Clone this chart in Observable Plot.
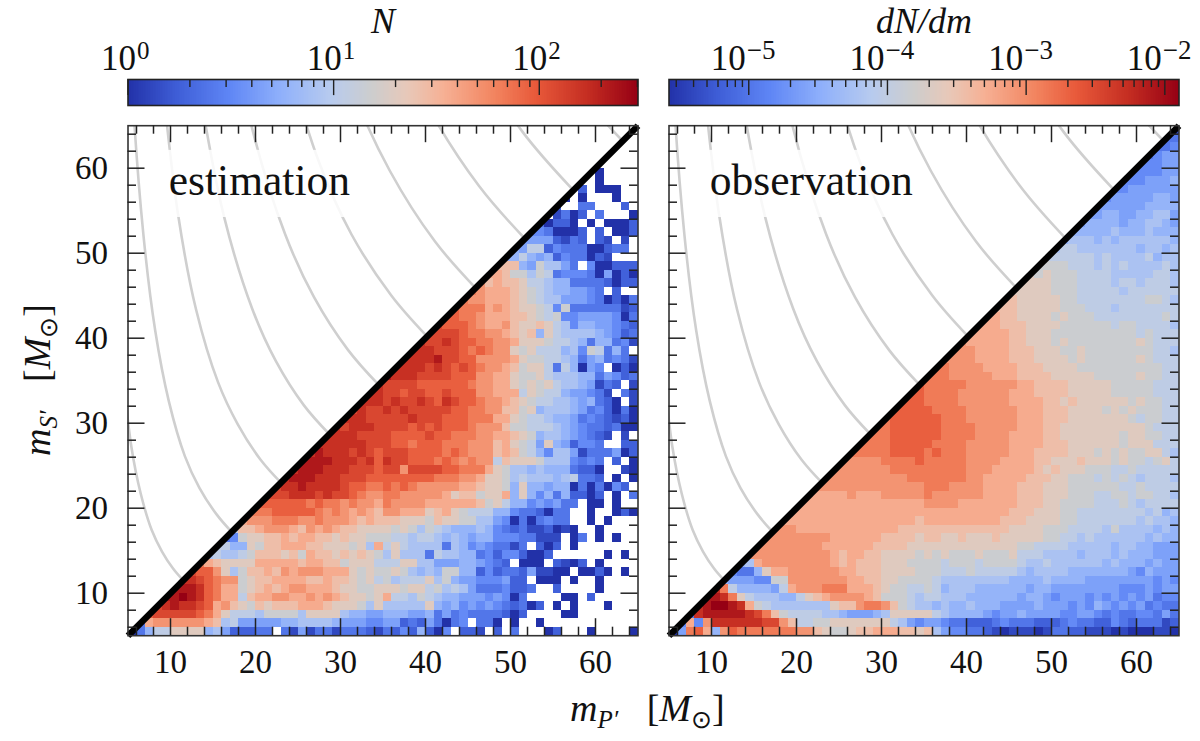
<!DOCTYPE html>
<html>
<head>
<meta charset="utf-8">
<script src="https://cdn.jsdelivr.net/npm/d3@7"></script>
<script src="https://cdn.jsdelivr.net/npm/@observablehq/plot@0.6"></script>
<style>
  body { margin: 0; background: #fff; }
  #chart { position: relative; width: 1200px; height: 741px; overflow: hidden; font-family: "Liberation Serif", serif; }
  .lab { position: absolute; font-size: 38px; line-height: 44px; white-space: nowrap; color: #111; }
  .lab sub { font-size: 25px; vertical-align: -7px; line-height: 0; }
</style>
</head>
<body>
<div id="chart"></div>
<script>
// each row is one m_S' bin, bottom row last; characters are colour levels 0..j read off
// the picture (base 20), "." is an empty bin. Rows end at m_P' = 65, so the first char sits on the diagonal
const estimationRows = [
  ".", "..", "...", "....", ".....", ".0....", "..0....", ".2.000..", "0.0...0..", "2..33...2.",
  ".1302.3...0", "30220.0.0002", "4430002.2.002", "55552132.21.1.", "65882433300233.",
  "6686562433021...", "bbb6597753.400222", "ccb997983444305020", "dbcbba8876633332022",
  "edcccba987 665543.2..",
  "e ddcccba987 7555430203",
  "fe eecdcbaa98 4933333312",
  "ffe edcccbba98 9445555403",
  "gfff edccdbaaba 8746655432",
  "ggggf eeddcbab6a 8777765423",
  "hgghgf feeddcaaa9 8876366341",
  "hhhgggf efedda9a88 867498363.",
  "hhhhiggf fddddca998 8763563431",
  "hhhhghgfg feddcb9aa8 386054.020",
  "ihhhggggff fddcca99a8 7776635423",
  "h ggggffffff eddcca9a9a 87765132.1",
  "hh ggfggffgff fddccc8a98 8655431.31",
  "hhh ghgghgfhgf feddcba988 77656320.1",
  "ghgg hghgggggff eeddbb9a67 7765342030",
  "hhhgg ggghgggfff eeecca9887 6653432120",
  "hghhhg gggfgfgfff edddb99888 7654332300",
  "hhhhggg gffffgffee eddccba967 7654321.1.",
  "hhhhhhgg gffefffeee dddbca985a 652443..22",
  "hihhhghgf gggffffefe dddbcb9864 7751333502",
  "iiiihhhghf hggfffefed edd8baaa97 774343.2.0",
  "h iiihhhgggf ggdggggffe eeca977676 663220..10",
  "hi iihhhgggff ffffffeeed dcaa978777 678332.0.0",
  "ghh ihhhhgffee fefedddddc cbaa96a665 660303042.",
  "gggh hhghggfedd eedddddcab b9aac6a646 362202.0.3",
  "fffff fefeededdc eddddccccc cb9a866454 533.00.0..",
  "eeefff ffededcdcb ddcccabca9 8886643320 33..0..020",
  "cdddeee ddedddcbcb bbaaa9baa9 9775403034 33..0.0...",
  "8bbcdddc bdcdcbbaaa a9a9798766 6764323112 010..0....",
  "349aabbcb ccbbabaa99 9887887676 5664443311 1.03.0.0..",
  "8866a9bbcc cbbaaa9a7c 8a87777376 4543313.20 2.0.......",
  "7 87789bbbab 9cbbababa9 7a77738776 6342442002 ......0.0.",
  "ec baaaaccccc bccbb9aaa8 88aa775556 65432.000. 2102.0....",
  "gff da79bbcbdc dddccca9a9 9a97676996 6242332511 00.0020.0.",
  "hhgf edd9abbccc cbbcbba9a8 97888a7965 5444522.00 0.0..0....",
  "iiihf ecc9abcbcd dcccbaa99a aa9aa89787 53334223.. 2....0....",
  "iijihf ecc8bccddc cdcdcbaa9a c887987665 5545403... .00.2.....",
  "ghihhgf cdba9babbb cccbaaa97a 77777a6564 545432302. 0.0...0...",
  "fgggggfe ca88879999 7aaaa76655 6665563534 3333202... .00.......",
  "3cddddddc b785555566 7777655544 5523253034 .330.0..0. ..........",
  "03688aaaa6 7522233.31 5133133321 32426204.2 21.2.3...0 2...0....0"
];
const observationRows = [
  "1", "33", "334", "3455", "44455", "444455", "4445556", "44555555", "455555665", "5555556666",
  "5 5665566775", "56 6665667765", "666 6676667666", "6777 6767777776", "78877 7777767767",
  "888888 7877778677", "9999888 7878777787", "a9a99988 8877777887", "aaaa99988 8878878887",
  "aaaaa99988 8887888888",
  "b baaaaa9988 8888889987",
  "bb baaaaa9998 8878888888",
  "ccb baaaa9a999 8888888898",
  "cccb bbaaaa9999 9989988887",
  "ccccc bbaaa99999 9999989888",
  "dccccc bbaaa9a999 99999a9888",
  "dddcccc bbbaaa99a9 9999999887",
  "ddddcccc bbbaaaa9a9 99999a9888",
  "eeddddccc cbbbaaaa99 9999999988",
  "eeedddddcc cbbbbaaaaa 99999a9988",
  "f eeeeeddddd dccbbbbaaa aa99999888",
  "ff eeeedddddd cccbbbbaaa aa99999888",
  "fff eeeedddddd ccccbbabaa aaaa9a9988",
  "ffff feeeeddddd dcccbbbaaa a9a9a99988",
  "effff ffeeeddddd dcccbbbaaa aaaa989988",
  "eeffff ffeeeedddd dcccbbaaaa aaaaaa9888",
  "eeeffff ffeeeedddd ccccbbaaaa aaa9aa9988",
  "eeeeffff feeeeddddd ccccbbbaaa aaa9aaa888",
  "eeeeeffff efeeeddddd cccbbbbaaa 9a9a99aa87",
  "dddddeeeef eeeeeddddc cccbbaaaba aa9a9989a8",
  "d ddddddeeee eeeeedddcc cccbabaaa9 9988988888",
  "dd ddddddddee eeeeeddccc ccbbbaa999 8989878887",
  "ddd dddddddddd eeeddddccc cbbbaaa999 9998898888",
  "cccc cdcccddddd eddddddccc cbbbaaa999 8899899887",
  "ccccc cccccccccc ddddcccccc cbbbaa9999 8889878888",
  "cccccc cccccccccc cccccccccc bbbaaa9988 8888887867",
  "ccccccc cccccccccb cccccccccb bbaaaa9988 8888878776",
  "dddccccc cccccccbbb bbbbbbbbbb aaaa999888 8797777676",
  "ddddddddc cccccbbbba bbaabaaaba aaaa998878 7777776766",
  "ddddddddcc ccccbbbbaa aaaaaaaaaa a998888777 7767766555",
  "d dddddddddc bccbbaaaa9 a9a999a999 a888777767 7767666555",
  "67 cddddddddc bcbbbaaa99 9989998999 9877877777 7676665655",
  "433 6accdddddd ccbbbaaaa9 9988898888 8767777666 6666546555",
  "6555 4499dddddd dccbbaa999 9877777777 6666766665 5555555454",
  "he866 6658cdddee ecccba9988 9867776666 6656655555 5554445455",
  "iihea8 777668abcd dddcb99987 8877766666 6566545554 5454545344",
  "hijjihc 987777777a bbdeedb987 7676676665 5556555454 6545453433",
  "3hiiiiih geb9888877 655567aaaa a876666545 5655554455 4343344353",
  "4c4dhhhhh hggdb8899a aaaaaa8754 5543322234 3332223433 2243233312",
  "05efc6dfee eeeeeddba9 9abbcccbba b754433210 1110133221 1101000110"
];

const massDomain = [5, 65];
const majorTicks = [10, 20, 30, 40, 50, 60];
const minorTicks = [6, 8, 12, 14, 16, 18, 22, 24, 26, 28, 32, 34, 36, 38, 42, 44, 46, 48, 52, 54, 56, 58, 62, 64];

// grey chirp mass lines
const curve10 = { p: [11.5, 10.3, 9.0, 7.8, 6.5, 5.4, 4.5], s: [11.5, 12.9, 14.9, 17.4, 21.7, 27.2, 34.9] };
const curve15 = { p: [17.2, 15.4, 13.4, 11.7, 9.8, 8.2, 6.8, 5.5, 4.6], s: [17.2, 19.3, 22.4, 26.1, 32.6, 40.9, 52.3, 69.3, 91.4] };
const curve20 = { p: [23.0, 20.6, 17.9, 15.6, 13.0, 10.9, 9.1], s: [23.0, 25.7, 29.9, 34.8, 43.4, 54.5, 69.7] };
const curve25 = { p: [28.7, 25.7, 22.4, 19.6, 16.3, 13.6], s: [28.7, 32.1, 37.3, 43.5, 54.3, 68.1] };
const curve30 = { p: [34.5, 30.9, 26.9, 23.5, 19.5, 16.3], s: [34.5, 38.6, 44.8, 52.2, 65.1, 81.7] };
const curve35 = { p: [40.2, 36.0, 31.3, 27.4, 22.8], s: [40.2, 45.0, 52.2, 60.9, 76.0] };
const curve40 = { p: [45.9, 41.1, 35.8, 31.3, 26.0], s: [45.9, 51.4, 59.7, 69.5, 86.8] };
const curve45 = { p: [51.7, 46.3, 40.3, 35.2], s: [51.7, 57.9, 67.2, 78.2] };
const curve50 = { p: [57.4, 51.4, 44.8], s: [57.4, 64.3, 74.6] };
const curve55 = { p: [63.2, 56.6, 49.3], s: [63.2, 70.7, 82.1] };
const curves = [curve10, curve15, curve20, curve25, curve30, curve35, curve40, curve45, curve50, curve55];

const nDomain = [1, 302];
const nMajor = [1, 10, 100];
const nMinor = [2, 3, 4, 5, 6, 7, 8, 9, 20, 30, 40, 50, 60, 70, 80, 90, 200, 300];
const nExponents = ["0", "1", "2"];
const dnDomain = [2.66e-6, 1.265e-2];
const dnMajor = [1e-5, 1e-4, 1e-3, 1e-2];
const dnMinor = [3e-6, 4e-6, 5e-6, 6e-6, 7e-6, 8e-6, 9e-6,
  2e-5, 3e-5, 4e-5, 5e-5, 6e-5, 7e-5, 8e-5, 9e-5,
  2e-4, 3e-4, 4e-4, 5e-4, 6e-4, 7e-4, 8e-4, 9e-4,
  2e-3, 3e-3, 4e-3, 5e-3, 6e-3, 7e-3, 8e-3, 9e-3];
const dnExponents = ["\u22125", "\u22124", "\u22123", "\u22122"];

const rampColors = ["#2231a8", "#3f5fd8", "#5f86f5", "#8fb0fb", "#b8cbee", "#cdcdcd", "#e8c8b8", "#f6b094", "#f2845f", "#e8593a", "#c52e22", "#960014"];
const rampStops = [0, .1, .2, .3, .4, .48, .55, .62, .72, .8, .9, 1];
const rampScale = d3.scaleLinear().domain(rampStops).range(rampColors).interpolate(d3.interpolateRgb);
const ramp = t => rampScale(t);

const chart = document.getElementById("chart");
const fullStyle = { position: "absolute", left: "0", top: "0", background: "none", fontFamily: "Liberation Serif, serif", color: "#111" };

function decode(rows, domain) {
  const cells = [];
  rows.forEach((row, i) => {
    const r = rows.length - 1 - i;
    const chars = row.replace(/ /g, "");
    const start = 60 - chars.length;
    [...chars].forEach((ch, j) => {
      if (ch === ".") return;
      const level = parseInt(ch, 36) / 19;
      const m = 5 + start + j;
      cells.push({ x1: m, x2: m + 1, y1: 5 + r, y2: 6 + r, value: domain[0] * (domain[1] / domain[0]) ** level });
    });
  });
  return cells;
}

function heatPanel(rows, domain, left, label, showY) {
  const lines = curves.flatMap((c, k) => c.p.map((p, i) => ({ p, s: c.s[i], k })));
  const svg = Plot.plot({
    width: 1200, height: 741,
    marginLeft: left, marginRight: 1200 - left - 510, marginTop: 125.2, marginBottom: 741 - 635.2,
    style: fullStyle,
    x: { domain: massDomain, axis: null },
    y: { domain: massDomain, axis: null },
    color: { type: "log", domain, interpolate: ramp },
    marks: [
      Plot.rect(decode(rows, domain), { x1: "x1", x2: "x2", y1: "y1", y2: "y2", fill: "value", shapeRendering: "crispEdges" }),
      // the upper triangle stays empty, the diagonal bins are cut by it
      Plot.areaY(massDomain, { x: d => d, y1: d => d, y2: 65, fill: "#fff" }),
      Plot.line(lines, { x: "p", y: "s", z: "k", stroke: "#cfcfcf", strokeWidth: 2.6, curve: "catmull-rom", clip: true }),
      Plot.rect([0], { x1: 9.4, x2: 33, y1: 54.2, y2: 62.1, fill: "#fff", fillOpacity: 0.85 }),
      Plot.line(massDomain, { x: d => d, y: d => d, stroke: "#000", strokeWidth: 6.5, strokeLinecap: "butt" }),
      Plot.frame({ stroke: "#333", strokeWidth: 1.6 }),
      Plot.ruleX(majorTicks, { x: d => d, y1: 5, y2: 7, stroke: "#222", strokeWidth: 1.5 }),
      Plot.ruleX(majorTicks, { x: d => d, y1: 65, y2: 63, stroke: "#222", strokeWidth: 1.5 }),
      Plot.ruleX(minorTicks, { x: d => d, y1: 5, y2: 6, stroke: "#222", strokeWidth: 1.5 }),
      Plot.ruleX(minorTicks, { x: d => d, y1: 65, y2: 64, stroke: "#222", strokeWidth: 1.5 }),
      Plot.ruleY(majorTicks, { y: d => d, x1: 5, x2: 7, stroke: "#222", strokeWidth: 1.5 }),
      Plot.ruleY(majorTicks, { y: d => d, x1: 65, x2: 63, stroke: "#222", strokeWidth: 1.5 }),
      Plot.ruleY(minorTicks, { y: d => d, x1: 5, x2: 6, stroke: "#222", strokeWidth: 1.5 }),
      Plot.ruleY(minorTicks, { y: d => d, x1: 65, x2: 64, stroke: "#222", strokeWidth: 1.5 }),
      Plot.axisX(majorTicks, { anchor: "bottom", tickSize: 0, tickPadding: 14, fontSize: 33, label: null, tickFormat: d => d }),
      showY ? Plot.axisY(majorTicks, { anchor: "left", tickSize: 0, tickPadding: 20, fontSize: 33, label: null, tickFormat: d => d }) : null,
      Plot.text([label], { x: 9.8, y: 58, text: d => d, textAnchor: "start", fontSize: 43.5, fill: "#111", dy: -4.5 })
    ]
  });
  chart.append(svg);
}

function colorBar(domain, major, minor, exponents, title, left, width, tenShift, expSize) {
  const n = 300;
  const bins = d3.range(n).map(i => ({
    x1: domain[0] * (domain[1] / domain[0]) ** (i / n),
    x2: domain[0] * (domain[1] / domain[0]) ** (Math.min(i + 2, n) / n),
    value: domain[0] * (domain[1] / domain[0]) ** ((i + 0.5) / n)
  }));
  const svg = Plot.plot({
    width: 1200, height: 741,
    marginLeft: left, marginRight: 1200 - left - width, marginTop: 79, marginBottom: 741 - 105,
    style: fullStyle,
    x: { type: "log", domain, axis: null },
    y: { domain: [0, 1], axis: null },
    color: { type: "log", domain, interpolate: ramp },
    marks: [
      Plot.rect(bins, { x1: "x1", x2: "x2", y1: 0, y2: 1, fill: "value", shapeRendering: "crispEdges" }),
      Plot.ruleX(major, { x: d => d, y1: 1, y2: 0.38, stroke: "#222", strokeWidth: 1.4 }),
      Plot.ruleX(minor, { x: d => d, y1: 1, y2: 0.69, stroke: "#222", strokeWidth: 1.4 }),
      Plot.frame({ stroke: "#222", strokeWidth: 1.6 }),
      Plot.text(major, { x: d => d, y: 1, text: () => "10", textAnchor: "end", fontSize: 35, dx: tenShift, dy: -21, fill: "#111" }),
      Plot.text(major, { x: d => d, y: 1, text: (d, i) => exponents[i], textAnchor: "start", fontSize: expSize, dx: tenShift + 1, dy: -29, fill: "#111" }),
      Plot.text([title], { frameAnchor: "top", text: d => d, fontSize: 36, fontStyle: "italic", dy: -72, fill: "#111" })
    ]
  });
  chart.append(svg);
}

colorBar(nDomain, nMajor, nMinor, nExponents, "N", 127.5, 510, 8, 25);
colorBar(dnDomain, dnMajor, dnMinor, dnExponents, "dN/dm", 668.5, 510, -3, 27);
heatPanel(estimationRows, nDomain, 127.5, "estimation", true);
heatPanel(observationRows, dnDomain, 668.5, "observation", false);

const xLabel = document.createElement("div");
xLabel.className = "lab";
xLabel.style.cssText = "left:570px;top:686px";
xLabel.innerHTML = "<i>m</i><sub><i>P\u2032</i></sub>&nbsp;&nbsp; [<i>M</i><sub>\u2299</sub>]";
chart.append(xLabel);

const yLabel = document.createElement("div");
yLabel.className = "lab";
yLabel.style.cssText = "left:37px;top:380px;transform:translate(-50%,-50%) rotate(-90deg)";
yLabel.innerHTML = "<i>m</i><sub><i>S\u2032</i></sub>&nbsp;&nbsp; [<i>M</i><sub>\u2299</sub>]";
chart.append(yLabel);
</script>
</body>
</html>
